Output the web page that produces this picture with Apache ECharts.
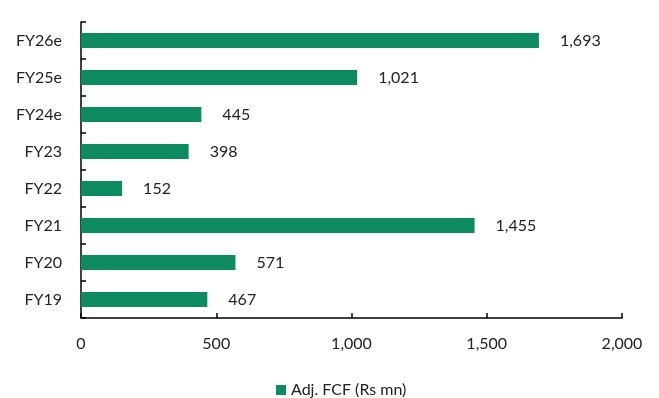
<!DOCTYPE html>
<html>
<head>
<meta charset="utf-8">
<script src="https://cdn.jsdelivr.net/npm/echarts@6/dist/echarts.min.js"></script>
<style>html,body{margin:0;padding:0;background:#fff}#c{width:659px;height:398px}</style>
</head>
<body>
<div id="c"></div>
<script>
// Fiscal years, bottom to top
const years = ['FY19', 'FY20', 'FY21', 'FY22', 'FY23', 'FY24e', 'FY25e', 'FY26e'];
// Adjusted free cash flow, Rs mn
const fcf = [467, 571, 1455, 152, 398, 445, 1021, 1693];
const seriesName = 'Adj. FCF (Rs mn)';
const xTicks = [0, 500, 1000, 1500, 2000];

const fmt = v => Number(v).toLocaleString('en-US');
const font = 'Lato, "Open Sans", sans-serif';
const fs = 16;

const chart = echarts.init(document.getElementById('c'), null, { renderer: 'canvas' });
chart.setOption({
  animation: false,
  textStyle: { fontFamily: font },
  grid: { left: 81, right: 37, top: 22, bottom: 80 },
  legend: {
    bottom: -5,
    left: 271,
    itemWidth: 10,
    itemHeight: 10,
    itemGap: 5,
    icon: 'rect',
    textStyle: { fontSize: fs, color: '#222', fontFamily: font },
    data: [seriesName]
  },
  xAxis: {
    type: 'value',
    min: xTicks[0],
    max: xTicks[xTicks.length - 1],
    interval: 500,
    splitLine: { show: false },
    axisLine: { show: true, lineStyle: { color: '#000', width: 1.5 } },
    axisTick: { show: true, inside: true, length: 5, lineStyle: { color: '#000', width: 1.5 } },
    axisLabel: { margin: 18, fontSize: fs, color: '#222', fontFamily: font, formatter: fmt }
  },
  yAxis: {
    type: 'category',
    data: years,
    axisLine: { show: true, lineStyle: { color: '#000', width: 1.5 } },
    axisTick: { show: true, inside: true, length: 5, lineStyle: { color: '#000', width: 1.5 } },
    axisLabel: { margin: 19, fontSize: fs, color: '#222', fontFamily: font }
  },
  series: [{
    name: seriesName,
    type: 'bar',
    data: fcf,
    barWidth: 15,
    itemStyle: { color: '#0E8A60' },
    label: {
      show: true,
      position: 'right',
      distance: 21,
      fontSize: fs,
      color: '#222',
      fontFamily: font,
      formatter: p => fmt(p.value)
    }
  }]
});
</script>
</body>
</html>
